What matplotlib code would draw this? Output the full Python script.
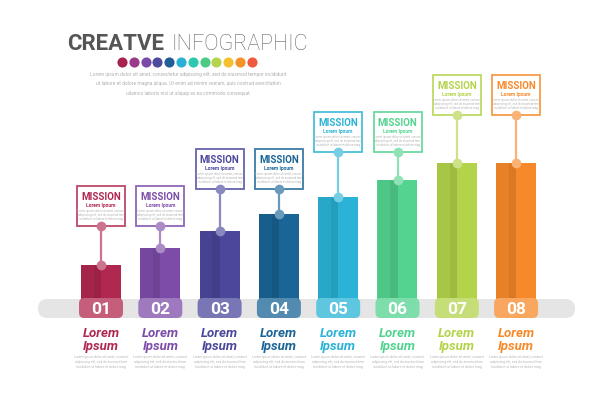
import matplotlib
matplotlib.use("Agg")
import matplotlib.pyplot as plt
from matplotlib.patches import FancyBboxPatch, Rectangle
from matplotlib.colors import to_rgb
import numpy as np

plt.rcParams['font.family'] = ['Roboto', 'DejaVu Sans']

# data
steps = ['01', '02', '03', '04', '05', '06', '07', '08']
values = [2, 3, 4, 5, 6, 7, 8, 8]
colors = ['#b0284f', '#7d4ca8', '#4b489c', '#1a6496',
          '#2ab3d6', '#52d38f', '#b3d34a', '#f7892a']
box_title = 'MISSION'
box_sub = 'Lorem Ipsum'
dot_colors = ['#a6224f', '#9b3a8a', '#7a4aa8', '#4e4a9e', '#1f5e96', '#2ab0d4',
              '#2ec8b0', '#4cc983', '#b5d34c', '#f5c02f', '#f59327', '#ef5a3f']
filler = ['Lorem ipsum dolor sit amet, consectetur adipiscing elit, sed do eiusmod tempor incididunt',
          'ut labore et dolore magna aliqua. Ut enim ad minim veniam, quis nostrud exercitation',
          'ullamco laboris nisi ut aliquip ex ea commodo consequat.']
tiny = ['Lorem ipsum dolor sit amet, consect',
        'adipiscing elit, sed do eiusmod tem',
        'incididunt ut labore et dolore mag']


def lighten(c, f):
    r = np.array(to_rgb(c))
    return tuple(r + (1 - r) * f)


# pixel layout of the value axis
W, H = 600, 410
X0, XS = 101, 59.3   # px of first bar centre, px per step
Y0, YS = 300, 17.0   # px of baseline, px per value unit

fig = plt.figure(figsize=(W / 100, H / 100), dpi=100)
ax = fig.add_axes([0, 0, 1, 1])
ax.set_xlim(-X0 / XS, (W - X0) / XS)
ax.set_ylim(-(H - Y0) / YS, Y0 / YS)
ax.axis('off')
asp = XS / YS

x = np.arange(len(values))
bw = 40 / XS

# grey rail
ax.add_patch(FancyBboxPatch((-63 / XS, -19 / YS), 537 / XS, 19 / YS,
                            boxstyle='round,pad=0,rounding_size=0.16',
                            mutation_aspect=asp, fc='#e5e5e5', ec='none', zorder=1))

# bars with a folded look
ax.bar(x, values, width=bw, color=colors, zorder=2)
ax.bar(x - bw / 4, values, width=bw / 2, color='black', alpha=0.06, zorder=3)
ax.bar(x - bw * 0.09, values, width=bw * 0.18, color='black', alpha=0.06, zorder=3)

tw = 44 / XS
for i, (s, c, v) in enumerate(zip(steps, colors, values)):
    # number tab
    ax.add_patch(FancyBboxPatch((x[i] - tw / 2, -19 / YS), tw, 20 / YS,
                                boxstyle='round,pad=0,rounding_size=0.09',
                                mutation_aspect=asp, fc=lighten(c, 0.25),
                                ec='none', zorder=4))
    ax.text(x[i], -9.5 / YS, s, ha='center', va='center', color='white',
            fontsize=12.5, fontweight='bold', zorder=5)
    # label under the rail
    ax.text(x[i], -34 / YS, 'Lorem', ha='center', va='center', color=c,
            fontsize=9.5, fontweight='bold', fontstyle='italic')
    ax.text(x[i], -47 / YS, 'Ipsum', ha='center', va='center', color=c,
            fontsize=9.5, fontweight='bold', fontstyle='italic')
    for j, t in enumerate(tiny):
        ax.text(x[i], (-57 - 5 * j) / YS, t, ha='center', va='center',
                color='#b8b8b8', fontsize=2.4)

    # mission box, stepped in pairs
    k = i // 2
    bot = (73 + 37 * k) / YS
    bh = 40 / YS
    bwid = 48 / XS
    lc = lighten(c, 0.35)
    ax.plot([x[i], x[i]], [v, bot], color=lc, lw=1.6, zorder=6)
    ax.plot([x[i], x[i]], [v, bot], 'o', ms=7, color=lc, mec='none', zorder=7)
    ax.add_patch(Rectangle((x[i] - bwid / 2, bot), bwid, bh, fc='white',
                           ec=lighten(c, 0.15), lw=1.3, zorder=6))
    top = bot + bh
    ax.text(x[i], top - 10 / YS, box_title, ha='center', va='center', color=c,
            fontsize=7, fontweight='bold', zorder=8)
    ax.text(x[i], top - 18.5 / YS, box_sub, ha='center', va='center', color=c,
            fontsize=3.6, fontweight='bold', zorder=8)
    for j, t in enumerate(tiny):
        ax.text(x[i], top - (24.5 + 4 * j) / YS, t, ha='center', va='center',
                color='#b5b5b5', fontsize=2.1, zorder=8)

# heading
fig.text(67 / W, 1 - 44 / H, 'CREATVE', ha='left', va='center',
         fontsize=16, fontweight='bold', color='#555555')
fig.text(172 / W, 1 - 44 / H, 'INFOGRAPHIC', ha='left', va='center',
         fontsize=15.5, fontweight='light', color='#666666')
for j, dc in enumerate(dot_colors):
    px = 122 + j * 11.8
    ax.plot((px - X0) / XS, (Y0 - 63) / YS, 'o', ms=7.3, color=dc, mec='none')
for j, t in enumerate(filler):
    fig.text(188 / W, 1 - (75 + 9 * j) / H, t, ha='center', va='center',
             fontsize=3.5, color='#b0b0b0')

fig.savefig('out.png', dpi=100, facecolor='white')
